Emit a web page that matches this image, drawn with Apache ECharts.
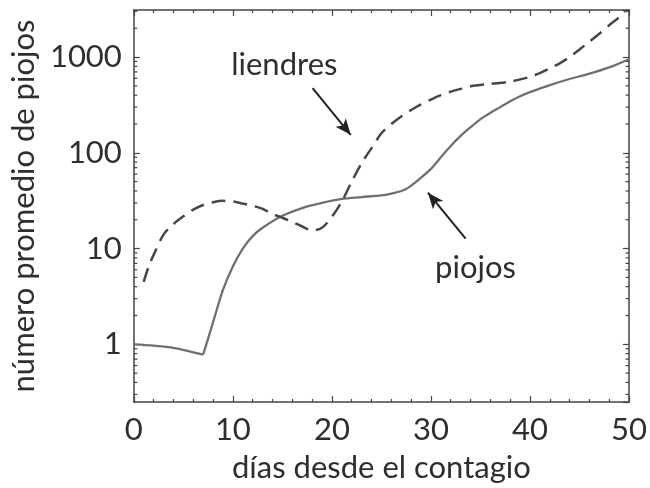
<!DOCTYPE html>
<html>
<head>
<meta charset="utf-8">
<script src="https://cdn.jsdelivr.net/npm/echarts@6/dist/echarts.min.js"></script>
<style>
html,body{margin:0;padding:0;background:#fff;}
#c{width:650px;height:488px;}
</style>
</head>
<body>
<div id="c"></div>
<script>
// ---- data ----
const piojosDays   = [0, 2, 4, 7, 8, 9, 10, 11, 12, 13, 15, 17, 19, 21, 23, 25, 26, 27.5, 29, 30, 31, 32, 33, 34, 35, 36, 37, 38, 39, 40, 42, 44, 46, 48, 50];
const piojosValues = [1.0, 0.97, 0.92, 0.78, 1.7, 3.7, 6.5, 10, 13.5, 16.5, 22, 26.5, 30, 33, 34.5, 36, 37.5, 42, 55, 68, 90, 118, 150, 185, 225, 262, 300, 345, 390, 430, 510, 590, 670, 780, 950];
const piojosKinkDay = 7;   // day where the piojos curve turns sharply upward

const liendresDays   = [1, 1.5, 2, 3, 4, 5, 6, 7, 8, 9, 10, 11, 12, 13, 14, 15, 16, 17, 18, 19, 20, 21, 22, 23, 24, 25, 26, 27, 28, 29, 30, 31, 32, 33, 34, 36, 38, 40, 41, 42, 43, 44, 45, 46, 47, 48, 49, 49.6];
const liendresValues = [4.5, 6.5, 8.6, 14, 18, 21.7, 25.5, 28.5, 30.5, 31.5, 31, 29.5, 28, 26, 23, 21, 19, 17, 15.5, 16.5, 21.5, 31, 50, 78, 112, 160, 200, 240, 280, 320, 360, 400, 435, 465, 495, 525, 555, 620, 680, 760, 860, 1000, 1200, 1450, 1750, 2150, 2600, 3000];

const xTickLabels = [0, 10, 20, 30, 40, 50];
const yTickLabels = [1, 10, 100, 1000];
const yMinorTicks = [0.3, 0.4, 0.5, 0.6, 0.7, 0.8, 0.9,
  2, 3, 4, 5, 6, 7, 8, 9,
  20, 30, 40, 50, 60, 70, 80, 90,
  200, 300, 400, 500, 600, 700, 800, 900,
  2000, 3000];

const labelNames = ['liendres', 'piojos'];
const labelAnchors = [[15.2, 826], [34.5, 6.3]];
const arrowLiendres = [[18.05, 475], [21.9, 154]];
const arrowPiojos = [[33.5, 12.7], [29.7, 38.3]];

const axisColor = '#444';
const textColor = '#2e2e2e';
const FONT = 'Lato';
const FS = 31;

const chart = echarts.init(document.getElementById('c'), null, {renderer: 'canvas'});

const piojosPairs = piojosDays.map((d, i) => [d, piojosValues[i]]);
const kinkIdx = piojosDays.indexOf(piojosKinkDay);
const piojosA = piojosPairs.slice(0, kinkIdx + 1);
const piojosB = piojosPairs.slice(kinkIdx);

const xAxisCommon = {
  type: 'value', min: 0, max: 50, interval: 10,
  axisLine: {show: true, onZero: false, lineStyle: {color: axisColor, width: 1.5}},
  axisTick: {show: true, inside: true, length: 6, lineStyle: {color: axisColor, width: 1.2}},
  minorTick: {show: true, splitNumber: 5, length: 3, lineStyle: {color: axisColor, width: 1.2}},
  splitLine: {show: false}
};
const yAxisCommon = {
  type: 'log', logBase: 10, min: 0.25, max: 3100,
  axisLine: {show: true, onZero: false, lineStyle: {color: axisColor, width: 1.5}},
  axisTick: {show: true, inside: true, length: 6, lineStyle: {color: axisColor, width: 1.2}},
  splitLine: {show: false}
};

const piojosStyle = {color: '#707070', width: 2.3};

const option = {
  animation: false,
  backgroundColor: '#fff',
  grid: {left: 127, right: 19, top: 10, bottom: 85, containLabel: false},
  xAxis: [
    Object.assign({}, xAxisCommon, {
      position: 'bottom',
      name: 'días desde el contagio', nameLocation: 'middle', nameGap: 50,
      nameTextStyle: {fontFamily: FONT, fontSize: FS, color: textColor},
      axisLabel: {show: true, margin: 12, fontFamily: FONT, fontSize: FS, color: textColor,
        formatter: v => xTickLabels.indexOf(v) >= 0 ? String(v) : ''}
    }),
    Object.assign({}, xAxisCommon, {position: 'top', axisLabel: {show: false}})
  ],
  yAxis: [
    Object.assign({}, yAxisCommon, {
      position: 'left',
      name: 'número promedio de piojos', nameLocation: 'middle', nameGap: 90,
      nameTextStyle: {fontFamily: FONT, fontSize: FS, color: textColor},
      axisLabel: {show: true, margin: 12, fontFamily: FONT, fontSize: FS, color: textColor,
        showMinLabel: false, showMaxLabel: false,
        formatter: v => yTickLabels.indexOf(Math.round(v * 1000) / 1000) >= 0 ? String(Math.round(v)) : ''}
    }),
    Object.assign({}, yAxisCommon, {position: 'right', axisLabel: {show: false}})
  ],
  series: [
    {
      name: 'piojos', type: 'line', xAxisIndex: 0, yAxisIndex: 0,
      data: piojosA, smooth: 0.3, showSymbol: false, symbol: 'none',
      lineStyle: piojosStyle
    },
    {
      name: 'piojos', type: 'line', xAxisIndex: 0, yAxisIndex: 0,
      data: piojosB, smooth: 0.3, showSymbol: false, symbol: 'none',
      lineStyle: piojosStyle,
      markLine: {
        silent: true, symbol: ['none', 'arrow'], symbolSize: [10, 16],
        label: {show: false},
        lineStyle: {color: '#222', width: 2, type: 'solid'},
        data: [
          [{coord: arrowLiendres[0]}, {coord: arrowLiendres[1]}],
          [{coord: arrowPiojos[0]}, {coord: arrowPiojos[1]}]
        ]
      },
      markPoint: {
        silent: true, symbol: 'circle', symbolSize: 0,
        label: {show: true, position: 'inside', fontFamily: FONT, fontSize: FS, color: textColor,
          formatter: p => p.name},
        data: labelNames.map((n, i) => ({name: n, coord: labelAnchors[i]}))
      }
    },
    {
      name: 'liendres', type: 'line', xAxisIndex: 0, yAxisIndex: 0,
      data: liendresDays.map((d, i) => [d, liendresValues[i]]),
      smooth: 0.3, showSymbol: false, symbol: 'none',
      lineStyle: {color: '#484848', width: 2.5, type: [14, 8]}
    },
    {
      name: 'minorY', type: 'custom', xAxisIndex: 0, yAxisIndex: 0, silent: true,
      clip: false,
      data: yMinorTicks.map(v => [0, v]),
      encode: {x: 0, y: 1},
      renderItem: function (params, api) {
        const v = api.value(1);
        const pl = api.coord([0, v]);
        const pr = api.coord([50, v]);
        const st = {stroke: axisColor, lineWidth: 1.2};
        return {type: 'group', children: [
          {type: 'line', shape: {x1: pl[0], y1: pl[1], x2: pl[0] + 3.5, y2: pl[1]}, style: st},
          {type: 'line', shape: {x1: pr[0], y1: pr[1], x2: pr[0] - 3.5, y2: pr[1]}, style: st}
        ]};
      }
    }
  ]
};
chart.setOption(option);
</script>
</body>
</html>
